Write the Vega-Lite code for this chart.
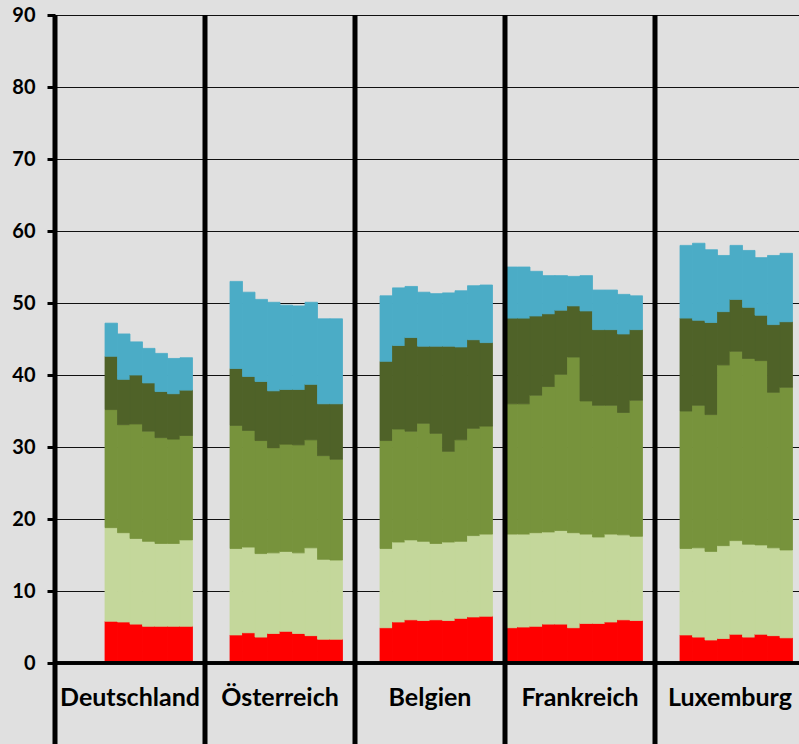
{
  "$schema": "https://vega.github.io/schema/vega-lite/v6.json",
  "width": 744,
  "height": 729,
  "autosize": {"type": "none"},
  "padding": {"left": 55, "top": 15, "right": 0, "bottom": 0},
  "background": "#e0e0e0",
  "config": {"view": {"stroke": null}},
  "datasets": {
    "laender": [
      {"land": "Deutschland"}, {"land": "Österreich"}, {"land": "Belgien"}, {"land": "Frankreich"}, {"land": "Luxemburg"}
    ],
    "werte": [
      {"land": "Deutschland", "jahr": 2008, "s1": 5.8, "s2": 13.0, "s3": 16.4, "s4": 7.4, "s5": 4.6},
      {"land": "Deutschland", "jahr": 2009, "s1": 5.7, "s2": 12.4, "s3": 15.0, "s4": 6.3, "s5": 6.3},
      {"land": "Deutschland", "jahr": 2010, "s1": 5.4, "s2": 11.9, "s3": 15.9, "s4": 6.8, "s5": 4.6},
      {"land": "Deutschland", "jahr": 2011, "s1": 5.1, "s2": 11.8, "s3": 15.3, "s4": 6.7, "s5": 4.8},
      {"land": "Deutschland", "jahr": 2012, "s1": 5.1, "s2": 11.5, "s3": 14.7, "s4": 6.4, "s5": 5.3},
      {"land": "Deutschland", "jahr": 2013, "s1": 5.1, "s2": 11.5, "s3": 14.5, "s4": 6.3, "s5": 4.9},
      {"land": "Deutschland", "jahr": 2014, "s1": 5.1, "s2": 12.0, "s3": 14.5, "s4": 6.3, "s5": 4.5},
      {"land": "Österreich", "jahr": 2006, "s1": 3.9, "s2": 12.0, "s3": 17.1, "s4": 7.9, "s5": 12.1},
      {"land": "Österreich", "jahr": 2007, "s1": 4.2, "s2": 11.9, "s3": 16.2, "s4": 7.5, "s5": 11.7},
      {"land": "Österreich", "jahr": 2008, "s1": 3.6, "s2": 11.6, "s3": 15.7, "s4": 8.2, "s5": 11.4},
      {"land": "Österreich", "jahr": 2009, "s1": 4.1, "s2": 11.2, "s3": 14.6, "s4": 7.9, "s5": 12.3},
      {"land": "Österreich", "jahr": 2010, "s1": 4.4, "s2": 11.1, "s3": 14.9, "s4": 7.6, "s5": 11.7},
      {"land": "Österreich", "jahr": 2011, "s1": 4.1, "s2": 11.2, "s3": 15.0, "s4": 7.7, "s5": 11.6},
      {"land": "Österreich", "jahr": 2012, "s1": 3.8, "s2": 12.2, "s3": 15.0, "s4": 7.7, "s5": 11.4},
      {"land": "Österreich", "jahr": 2013, "s1": 3.3, "s2": 11.1, "s3": 14.4, "s4": 7.2, "s5": 11.8},
      {"land": "Österreich", "jahr": 2014, "s1": 3.3, "s2": 11.0, "s3": 14.0, "s4": 7.7, "s5": 11.8},
      {"land": "Belgien", "jahr": 2006, "s1": 4.9, "s2": 11.0, "s3": 15.0, "s4": 11.0, "s5": 9.1},
      {"land": "Belgien", "jahr": 2007, "s1": 5.7, "s2": 11.1, "s3": 15.7, "s4": 11.6, "s5": 8.0},
      {"land": "Belgien", "jahr": 2008, "s1": 6.0, "s2": 11.1, "s3": 15.1, "s4": 13.0, "s5": 7.1},
      {"land": "Belgien", "jahr": 2009, "s1": 5.9, "s2": 11.0, "s3": 16.4, "s4": 10.7, "s5": 7.5},
      {"land": "Belgien", "jahr": 2010, "s1": 6.0, "s2": 10.6, "s3": 15.3, "s4": 12.1, "s5": 7.3},
      {"land": "Belgien", "jahr": 2011, "s1": 5.9, "s2": 10.9, "s3": 12.6, "s4": 14.6, "s5": 7.4},
      {"land": "Belgien", "jahr": 2012, "s1": 6.2, "s2": 10.7, "s3": 14.1, "s4": 12.9, "s5": 7.8},
      {"land": "Belgien", "jahr": 2013, "s1": 6.4, "s2": 11.3, "s3": 14.9, "s4": 12.3, "s5": 7.5},
      {"land": "Belgien", "jahr": 2014, "s1": 6.5, "s2": 11.4, "s3": 15.0, "s4": 11.6, "s5": 8.0},
      {"land": "Frankreich", "jahr": 2004, "s1": 4.9, "s2": 13.0, "s3": 18.1, "s4": 11.9, "s5": 7.1},
      {"land": "Frankreich", "jahr": 2005, "s1": 5.0, "s2": 12.9, "s3": 18.1, "s4": 11.9, "s5": 7.1},
      {"land": "Frankreich", "jahr": 2006, "s1": 5.1, "s2": 13.0, "s3": 19.1, "s4": 11.0, "s5": 6.2},
      {"land": "Frankreich", "jahr": 2007, "s1": 5.4, "s2": 12.8, "s3": 20.2, "s4": 10.1, "s5": 5.3},
      {"land": "Frankreich", "jahr": 2008, "s1": 5.4, "s2": 13.0, "s3": 21.7, "s4": 8.9, "s5": 4.8},
      {"land": "Frankreich", "jahr": 2009, "s1": 4.9, "s2": 13.2, "s3": 24.4, "s4": 7.1, "s5": 4.1},
      {"land": "Frankreich", "jahr": 2010, "s1": 5.5, "s2": 12.4, "s3": 18.5, "s4": 12.5, "s5": 4.9},
      {"land": "Frankreich", "jahr": 2011, "s1": 5.5, "s2": 12.0, "s3": 18.3, "s4": 10.5, "s5": 5.5},
      {"land": "Frankreich", "jahr": 2012, "s1": 5.7, "s2": 12.2, "s3": 17.9, "s4": 10.5, "s5": 5.5},
      {"land": "Frankreich", "jahr": 2013, "s1": 6.0, "s2": 11.8, "s3": 17.0, "s4": 10.9, "s5": 5.5},
      {"land": "Frankreich", "jahr": 2014, "s1": 5.9, "s2": 11.7, "s3": 18.9, "s4": 9.8, "s5": 4.7},
      {"land": "Luxemburg", "jahr": 2006, "s1": 3.9, "s2": 12.0, "s3": 19.1, "s4": 12.9, "s5": 10.1},
      {"land": "Luxemburg", "jahr": 2007, "s1": 3.6, "s2": 12.4, "s3": 19.8, "s4": 11.8, "s5": 10.7},
      {"land": "Luxemburg", "jahr": 2008, "s1": 3.2, "s2": 12.3, "s3": 19.0, "s4": 12.8, "s5": 10.1},
      {"land": "Luxemburg", "jahr": 2009, "s1": 3.4, "s2": 12.9, "s3": 25.1, "s4": 7.4, "s5": 7.8},
      {"land": "Luxemburg", "jahr": 2010, "s1": 4.0, "s2": 13.0, "s3": 26.3, "s4": 7.2, "s5": 7.5},
      {"land": "Luxemburg", "jahr": 2011, "s1": 3.6, "s2": 12.9, "s3": 25.8, "s4": 7.1, "s5": 7.9},
      {"land": "Luxemburg", "jahr": 2012, "s1": 4.0, "s2": 12.4, "s3": 25.6, "s4": 6.3, "s5": 8.0},
      {"land": "Luxemburg", "jahr": 2013, "s1": 3.8, "s2": 12.2, "s3": 21.6, "s4": 9.4, "s5": 9.6},
      {"land": "Luxemburg", "jahr": 2014, "s1": 3.5, "s2": 12.2, "s3": 22.6, "s4": 9.1, "s5": 9.5}
    ]
  },
  "layer": [
    {
      "data": {"name": "werte"},
      "transform": [{"fold": ["s1", "s2", "s3", "s4", "s5"], "as": ["teil", "wert"]}],
      "mark": {"type": "bar", "strokeWidth": 0.8},
      "encoding": {
        "x": {"field": "land", "type": "nominal", "axis": null,
              "scale": {"domain": ["Deutschland", "Österreich", "Belgien", "Frankreich", "Luxemburg"], "paddingInner": 0, "paddingOuter": 0, "range": [0, 750]}},
        "xOffset": {"field": "jahr", "type": "ordinal",
              "scale": {"domain": [2004, 2005, 2006, 2007, 2008, 2009, 2010, 2011, 2012, 2013, 2014, 2015], "paddingInner": 0, "paddingOuter": 0}},
        "y": {"field": "wert", "type": "quantitative", "stack": "zero",
              "scale": {"domain": [-11.25, 90], "nice": false, "zero": false},
              "axis": {"values": [0, 10, 20, 30, 40, 50, 60, 70, 80, 90], "title": null, "domain": false,
                       "grid": true, "gridColor": "#111111", "gridWidth": 1,
                       "ticks": true, "tickColor": "#000000", "tickWidth": 3, "tickSize": 8,
                       "labelFont": "Lato", "labelFontWeight": "bold", "labelFontSize": 20, "labelColor": "#000000", "labelPadding": 12}},
        "color": {"field": "teil", "type": "nominal", "legend": null,
              "scale": {"domain": ["s1", "s2", "s3", "s4", "s5"], "range": ["#ff0000", "#c4d79b", "#77933c", "#4f6228", "#4bacc6"]}},
        "stroke": {"field": "teil", "type": "nominal", "legend": null,
              "scale": {"domain": ["s1", "s2", "s3", "s4", "s5"], "range": ["#ff0000", "#c4d79b", "#77933c", "#4f6228", "#4bacc6"]}},
        "order": {"field": "teil", "type": "ordinal", "sort": "ascending"}
      }
    },
    {
      "data": {"name": "laender"},
      "mark": {"type": "rule", "color": "#000000", "strokeWidth": 5, "clip": false},
      "encoding": {
        "x": {"field": "land", "type": "nominal", "bandPosition": 0}
      }
    },
    {
      "data": {"name": "laender"},
      "mark": {"type": "rule", "color": "#000000", "strokeWidth": 3},
      "encoding": {
        "y": {"datum": 0}
      }
    },
    {
      "data": {"name": "laender"},
      "mark": {"type": "text", "font": "Lato", "fontWeight": "bold", "fontSize": 25, "color": "#000000", "baseline": "middle", "align": "center"},
      "encoding": {
        "x": {"field": "land", "type": "nominal"},
        "y": {"datum": -4.8},
        "text": {"field": "land"}
      }
    }
  ]
}
